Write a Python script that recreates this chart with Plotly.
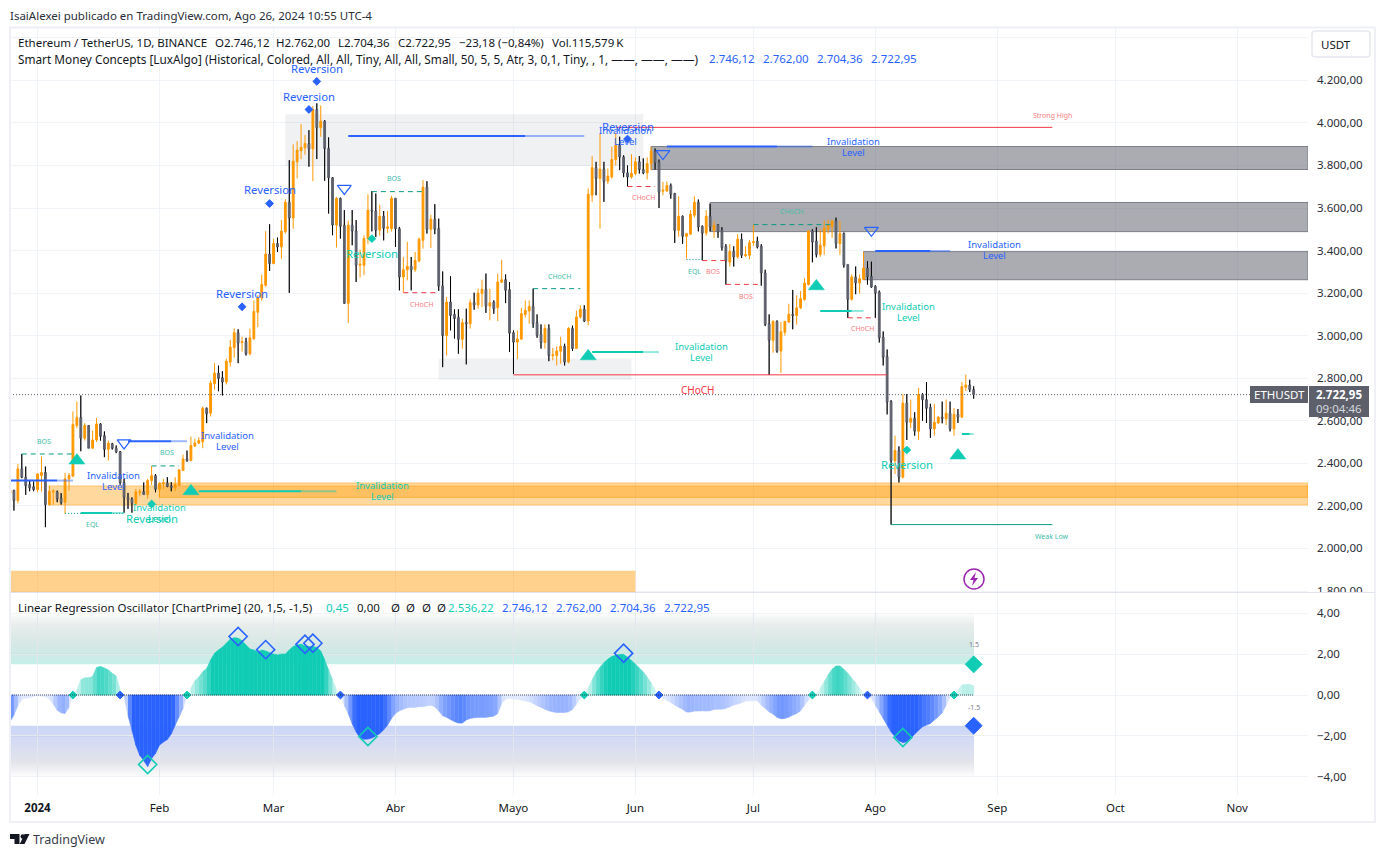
import pandas as pd
import plotly.graph_objects as go

# chart values. First candle is 2023-12-25
FIRST_DAY = "2023-12-25"
opens = [2260, 2272, 2225, 2374, 2335, 2300, 2290,
         2277, 2343, 2357, 2206, 2266, 2266, 2237, 2217, 2327, 2339, 2578, 2615, 2518, 2578, 2471, 2510, 2585, 2530, 2466, 2492, 2471, 2454, 2310, 2240, 2233,
         2212, 2262, 2267, 2253, 2319, 2342, 2278, 2304, 2308, 2294, 2286, 2296, 2366, 2421, 2413, 2481, 2495, 2502, 2659, 2636, 2774, 2824, 2802, 2782, 2876, 2944, 3014, 2968, 2972, 2915, 2985, 3110, 3177, 3237, 3383,
         3339, 3433, 3417, 3488, 3627, 3553, 3817, 3869, 3883, 3903, 3878, 4063, 3977, 4008, 3880, 3742, 3520, 3645, 3519, 3152, 3519, 3492, 3331, 3331, 3456, 3590, 3586, 3496, 3561, 3505, 3503,
         3646, 3503, 3276, 3310, 3326, 3310, 3351, 3448, 3698, 3500, 3547, 3503, 3234, 3001, 3158, 3100, 3086, 2983, 3062, 3056, 3155, 3144, 3198, 3218, 3139, 3158, 3131, 3251, 3263, 3216, 3014, 2970,
         2984, 3100, 3116, 3138, 3061, 3006, 2968, 3034, 2906, 2907, 2927, 2950, 2876, 3034, 2940, 3088, 3124, 3069, 3660, 3790, 3739, 3783, 3726, 3746, 3828, 3895, 3840, 3765, 3746,
         3762, 3817, 3781, 3765, 3809, 3867, 3817, 3679, 3680, 3706, 3668, 3495, 3561, 3467, 3477, 3566, 3627, 3514, 3483, 3561, 3495, 3522, 3496, 3420, 3346, 3396, 3370, 3453, 3376, 3378,
         3438, 3444, 3420, 3295, 3056, 2978, 3067, 2928, 3016, 3064, 3100, 3095, 3131, 3170, 3241, 3492, 3444, 3382, 3422, 3500, 3514, 3539, 3433, 3480, 3335, 3171, 3276, 3248, 3265, 3318, 3279,
         3232, 3205, 2993, 2902, 2691, 2413, 2460, 2335, 2683, 2593, 2612, 2551, 2724, 2699, 2663, 2562, 2590, 2617, 2609, 2636, 2562, 2630, 2617, 2757, 2768, 2746]
highs = [2290, 2276, 2397, 2444, 2385, 2322, 2314,
         2354, 2432, 2385, 2295, 2278, 2272, 2260, 2355, 2355, 2644, 2691, 2719, 2589, 2580, 2554, 2614, 2589, 2550, 2507, 2496, 2484, 2458, 2327, 2261, 2240,
         2280, 2280, 2310, 2327, 2388, 2350, 2311, 2327, 2335, 2311, 2335, 2374, 2441, 2460, 2526, 2515, 2523, 2667, 2662, 2790, 2871, 2859, 2833, 2892, 2981, 3034, 3030, 2995, 2990, 3033, 3166, 3190, 3287, 3491, 3524,
         3456, 3461, 3543, 3641, 3825, 3899, 3914, 3994, 3943, 3966, 4079, 4092, 4082, 4013, 3932, 3745, 3652, 3649, 3590, 3540, 3590, 3543, 3404, 3472, 3665, 3679, 3668, 3616, 3586, 3586, 3657,
         3646, 3511, 3370, 3441, 3370, 3393, 3461, 3731, 3726, 3569, 3618, 3550, 3302, 3182, 3279, 3124, 3124, 3080, 3127, 3171, 3202, 3221, 3263, 3292, 3220, 3166, 3292, 3357, 3288, 3252, 3025, 3025,
         3131, 3166, 3166, 3221, 3100, 3053, 3053, 3053, 2943, 2950, 2995, 2962, 3040, 3047, 3119, 3143, 3143, 3692, 3844, 3817, 3950, 3817, 3786, 3888, 3954, 3935, 3848, 3800,
         3853, 3838, 3844, 3833, 3838, 3888, 3880, 3828, 3723, 3725, 3715, 3671, 3655, 3565, 3482, 3590, 3655, 3640, 3518, 3590, 3620, 3540, 3525, 3510, 3430, 3430, 3420, 3478, 3480, 3420,
         3450, 3522, 3465, 3430, 3310, 3100, 3072, 3072, 3065, 3070, 3150, 3215, 3190, 3210, 3270, 3495, 3500, 3510, 3500, 3540, 3545, 3545, 3555, 3540, 3485, 3335, 3288, 3325, 3288, 3392, 3350, 3348,
         3237, 3212, 3020, 2935, 2697, 2530, 2480, 2725, 2725, 2700, 2640, 2755, 2730, 2782, 2680, 2680, 2622, 2690, 2700, 2690, 2660, 2655, 2782, 2817, 2793, 2762]
lows = [2240, 2178, 2212, 2330, 2252, 2269, 2269,
        2264, 2267, 2100, 2201, 2206, 2217, 2206, 2162, 2272, 2339, 2565, 2457, 2507, 2471, 2471, 2500, 2507, 2429, 2413, 2465, 2448, 2300, 2168, 2186, 2168,
        2206, 2244, 2253, 2234, 2298, 2264, 2240, 2280, 2288, 2269, 2269, 2296, 2366, 2408, 2413, 2476, 2491, 2471, 2589, 2620, 2746, 2739, 2719, 2771, 2855, 2896, 2871, 2925, 2907, 2907, 2981, 3040, 3165, 3230, 3304,
        3336, 3393, 3361, 3480, 3201, 3502, 3739, 3830, 3850, 3794, 3726, 3830, 3935, 3728, 3574, 3472, 3414, 3456, 3150, 3059, 3425, 3252, 3273, 3284, 3430, 3490, 3464, 3470, 3448, 3483, 3490,
        3417, 3213, 3202, 3260, 3213, 3300, 3345, 3409, 3480, 3412, 3477, 3210, 2852, 2907, 3025, 2986, 2915, 2939, 2865, 3033, 3122, 3127, 3135, 3107, 3072, 3103, 3069, 3250, 3153, 2923, 2820, 2890,
        2980, 3085, 3056, 3037, 2990, 2939, 2939, 2880, 2884, 2860, 2868, 2860, 2870, 2928, 2938, 3080, 3064, 3048, 3629, 3660, 3503, 3629, 3712, 3738, 3800, 3778, 3745, 3702,
        3738, 3754, 3762, 3759, 3734, 3778, 3781, 3600, 3660, 3675, 3644, 3436, 3465, 3432, 3362, 3475, 3555, 3490, 3354, 3470, 3490, 3460, 3460, 3400, 3240, 3325, 3325, 3362, 3365, 3370,
        3360, 3422, 3410, 3235, 3045, 2815, 2920, 2920, 2825, 3000, 3060, 3030, 3052, 3125, 3165, 3236, 3345, 3368, 3370, 3380, 3480, 3460, 3410, 3380, 3320, 3084, 3165, 3195, 3198, 3262, 3240, 3225,
        3084, 2968, 2860, 2630, 2112, 2350, 2310, 2330, 2510, 2565, 2530, 2510, 2600, 2590, 2520, 2530, 2585, 2588, 2580, 2550, 2530, 2590, 2615, 2740, 2735, 2704]
closes = [2275, 2225, 2374, 2335, 2295, 2285, 2277,
          2350, 2357, 2206, 2269, 2269, 2233, 2216, 2327, 2343, 2582, 2615, 2518, 2578, 2471, 2510, 2585, 2527, 2466, 2495, 2471, 2454, 2310, 2240, 2230, 2212,
          2266, 2267, 2253, 2319, 2342, 2278, 2306, 2308, 2291, 2286, 2300, 2369, 2421, 2413, 2484, 2496, 2507, 2659, 2633, 2777, 2824, 2799, 2782, 2880, 2946, 3014, 2965, 2972, 2915, 2990, 3114, 3177, 3240, 3383, 3339,
          3433, 3417, 3491, 3627, 3553, 3820, 3872, 3885, 3903, 3878, 4063, 3977, 4008, 3880, 3742, 3520, 3645, 3514, 3152, 3519, 3492, 3331, 3336, 3456, 3590, 3586, 3496, 3561, 3505, 3511, 3646,
          3503, 3276, 3310, 3326, 3310, 3354, 3453, 3698, 3500, 3547, 3500, 3234, 3001, 3158, 3095, 3081, 2983, 3061, 3056, 3155, 3144, 3200, 3218, 3139, 3155, 3127, 3252, 3263, 3213, 3012, 2970, 2984,
          3103, 3119, 3138, 3056, 3001, 2968, 3034, 2907, 2910, 2928, 2950, 2876, 3034, 2940, 3088, 3124, 3069, 3665, 3790, 3739, 3783, 3726, 3750, 3828, 3895, 3840, 3765, 3746,
          3762, 3817, 3781, 3765, 3809, 3867, 3812, 3676, 3684, 3706, 3665, 3495, 3561, 3467, 3480, 3571, 3627, 3511, 3482, 3561, 3511, 3519, 3488, 3414, 3351, 3396, 3370, 3453, 3378, 3381,
          3437, 3442, 3417, 3295, 3053, 2978, 3067, 2928, 3019, 3067, 3100, 3095, 3131, 3174, 3247, 3492, 3440, 3382, 3425, 3506, 3519, 3539, 3433, 3480, 3332, 3171, 3276, 3248, 3268, 3318, 3276, 3229,
          3200, 2990, 2899, 2688, 2413, 2460, 2335, 2683, 2593, 2612, 2551, 2724, 2699, 2659, 2562, 2593, 2617, 2611, 2636, 2562, 2630, 2617, 2761, 2768, 2746, 2723]
osc_values = [-1.3, -0.98, -0.5, -0.2, -0.16, -0.13, -0.07,
              -0.02, -0.05, -0.08, -0.2, -0.44, -0.74, -0.87, -0.9, -0.6, 0.05, 0.25, 0.75, 0.84, 0.85, 0.9, 1.35, 1.4, 1.32, 1.22, 1.06, 0.93, 0.25, -0.05, -1.0, -1.7,
              -2.45, -2.95, -3.2, -3.5, -3.1, -2.85, -2.45, -2.3, -2.17, -1.9, -1.47, -1.06, -0.65, -0.1, 0.33, 0.7, 0.87, 1.14, 1.3, 1.7, 2.04, 2.2, 2.34, 2.53, 2.73, 2.8, 2.78, 2.65, 2.45, 2.25, 2.2, 2.09, 2.2, 2.15, 2.07,
              2.0, 1.96, 2.0, 2.0, 2.2, 2.37, 2.45, 2.48, 2.4, 2.37, 2.37, 2.32, 2.15, 1.72, 1.22, 0.74, 0.25, 0.0, -0.5, -0.9, -1.4, -1.8, -2.1, -2.16, -2.15, -2.1, -2.0, -1.88, -1.7, -1.47, -1.14,
              -0.9, -0.77, -0.69, -0.62, -0.6, -0.6, -0.57, -0.57, -0.52, -0.5, -0.57, -0.77, -1.01, -1.09, -1.2, -1.3, -1.37, -1.37, -1.22, -1.14, -1.11, -1.09, -1.09, -1.09, -1.06, -1.03, -0.9, -0.4, -0.2, -0.16, -0.2, -0.2,
              -0.25, -0.28, -0.33, -0.41, -0.52, -0.6, -0.69, -0.77, -0.82, -0.85, -0.85, -0.85, -0.82, -0.7, -0.44, -0.16, 0.0, 0.33, 0.74, 1.1, 1.36, 1.58, 1.75, 1.88, 1.94, 1.98, 1.98, 1.85,
              1.68, 1.52, 1.32, 1.13, 0.87, 0.6, 0.25, 0.0, -0.16, -0.26, -0.36, -0.49, -0.6, -0.7, -0.83, -0.83, -0.78, -0.78, -0.77, -0.78, -0.77, -0.7, -0.69, -0.69, -0.65, -0.57, -0.49, -0.44, -0.38, -0.29,
              -0.28, -0.28, -0.28, -0.49, -0.65, -0.82, -0.93, -1.09, -1.16, -1.14, -1.08, -0.98, -0.9, -0.77, -0.49, -0.25, 0.0, 0.02, 0.33, 0.65, 0.98, 1.26, 1.42, 1.42, 1.26, 1.06, 0.82, 0.6, 0.33, 0.1, 0.0,
              -0.16, -0.49, -0.82, -1.14, -1.47, -1.8, -2.04, -2.24, -2.32, -2.29, -2.12, -1.91, -1.72, -1.55, -1.47, -1.39, -1.22, -1.06, -0.87, -0.49, -0.11, 0.0, 0.25, 0.49, 0.52, 0.52, 0.45]

month_ticks = ["2024-01-01", "2024-02-01", "2024-03-01", "2024-04-01", "2024-05-01", "2024-06-01",
               "2024-07-01", "2024-08-01", "2024-09-01", "2024-10-01", "2024-11-01"]
month_labels = ["<b>2024</b>", "Feb", "Mar", "Abr", "Mayo", "Jun", "Jul", "Ago", "Sep", "Oct", "Nov"]
last_close = 2722.95

TEAL = "#10ccb4"
BLUE = "#2962ff"
ORANGE = "#ff9800"
GRAY = "#5d606b"
RED = "#f23645"
GREEN = "#089981"
INK = "#131722"
GRID = "#f0f3f8"
FONT = "Noto Sans"

# page geometry, the browser puts the figure 8px in from the corner
OFF = 8
L, R, T, B, SEP = 10, 1308, 28, 795, 592.5


def px(x):
    return (x - L) / (R - L)


def py(y):
    return (B - y) / (B - T)


def d(i):
    # day offset from 1 Jan 2024, fractions allowed for labels
    return str(pd.Timestamp("2024-01-01") + pd.Timedelta(days=i))


dates = [str(t.date()) for t in pd.date_range(FIRST_DAY, periods=len(opens))]
RIGHT_DAY = d(323)
LEFT_DAY = d(-7)

fig = go.Figure()

# candles; the down wicks are black in the original so they go on top as own trace
fig.add_trace(go.Candlestick(
    x=dates, open=opens, high=highs, low=lows, close=closes, xaxis="x", yaxis="y",
    increasing=dict(line=dict(color=ORANGE, width=1), fillcolor=ORANGE),
    decreasing=dict(line=dict(color=GRAY, width=1), fillcolor=GRAY),
    hoverinfo="skip", showlegend=False))
wx, wy = [], []
for t, o, h, l, c in zip(dates, opens, highs, lows, closes):
    if c < o:
        wx += [t, t, None, t, t, None]
        wy += [h, o, None, c, l, None]
fig.add_trace(go.Scatter(x=wx, y=wy, mode="lines", line=dict(color="black", width=1),
                         hoverinfo="skip", showlegend=False))

# oscillator area, one slice per day and the strength sets how far it is from white
for i in range(len(osc_values) - 1):
    a, b = osc_values[i], osc_values[i + 1]
    mid = (a + b) / 2
    alpha = max(0.14, min(1, abs(mid) / 1.75))
    base = (16, 204, 180) if mid >= 0 else (41, 98, 255)
    color = "rgb(%d,%d,%d)" % tuple(255 + (c - 255) * alpha for c in base)
    fig.add_trace(go.Scatter(x=[dates[i], dates[i + 1], dates[i + 1], dates[i]], y=[a, b, 0, 0],
                             mode="lines", fill="toself", fillcolor=color, line=dict(color=color, width=0.7),
                             xaxis="x", yaxis="y2", hoverinfo="skip", showlegend=False))

shapes = []


def rect(x0, x1, y0, y1, fill, line=None, yref="y", width=1, layer="between"):
    shapes.append(dict(type="rect", xref="x", yref=yref, x0=x0, x1=x1, y0=y0, y1=y1, fillcolor=fill,
                       line=dict(color=line or "rgba(0,0,0,0)", width=width if line else 0), layer=layer))


def hline(x0, x1, y, color, width=1, dash="solid", yref="y", layer="above"):
    shapes.append(dict(type="line", xref="x", yref=yref, x0=x0, x1=x1, y0=y, y1=y,
                       line=dict(color=color, width=width, dash=dash), layer=layer))


# gradient bands of the oscillator, each step painted over the one before so no seams show
def blend(stops, f):
    for (f0, c0), (f1, c1) in zip(stops, stops[1:]):
        if f <= f1:
            k = (f - f0) / (f1 - f0)
            return "rgb(%d,%d,%d)" % tuple(c0[j] + (c1[j] - c0[j]) * k for j in range(3))
    return "rgb(255,255,255)"


top_stops = [(0, (198, 239, 233)), (0.38, (214, 232, 229)), (0.78, (233, 238, 237)), (1, (255, 255, 255))]
bot_stops = [(0, (203, 214, 248)), (0.33, (214, 220, 243)), (0.7, (227, 228, 234)), (1, (255, 255, 255))]
steps = 40
for k in range(steps):
    f0 = k / steps
    rect(LEFT_DAY, d(238), 1.5 + 2.5 * f0, 4, blend(top_stops, f0), yref="y2", layer="below")
    rect(LEFT_DAY, d(238), -1.5 - 2.5 * f0, -4, blend(bot_stops, f0), yref="y2", layer="below")
# grid shows as a darker line through those bands
for y in [2, -2]:
    hline(LEFT_DAY, d(238), y, "rgba(60,70,90,0.09)", yref="y2", layer="between")
for t in month_ticks[:8]:
    for y0, y1 in [(1.5, 4), (-1.5, -4)]:
        shapes.append(dict(type="line", xref="x", yref="y2", x0=t, x1=t, y0=y0, y1=y1,
                           line=dict(color="rgba(60,70,90,0.07)", width=1), layer="between"))

# order blocks
rect(d(63), d(154), 3798, 4041, "rgba(93,96,107,0.09)")
rect(d(102), d(151), 2793, 2893, "rgba(93,96,107,0.09)")
ZONE = "rgba(93,96,107,0.52)"
ZONE_EDGE = "#7c7e88"
rect(d(156), RIGHT_DAY, 3781, 3889, ZONE, ZONE_EDGE)
rect(d(171), RIGHT_DAY, 3489, 3626, ZONE, ZONE_EDGE)
rect(d(210), RIGHT_DAY, 3263, 3395, ZONE, ZONE_EDGE)
rect(d(3), RIGHT_DAY, 2204, 2294, "rgba(255,152,0,0.38)", "rgba(255,152,0,0.45)")
rect(d(31), RIGHT_DAY, 2240, 2308, "rgba(255,152,0,0.38)", "rgba(255,152,0,0.45)")
rect(LEFT_DAY, d(152), 1793, 1895, "rgba(255,152,0,0.45)")

# structure lines
hline(d(147), d(258), 3979, RED)
hline(d(217), d(258), 2112, GREEN)
hline(d(121), d(216), 2816, RED)
for a, b, y, c in [(-4, 9, 2444, GREEN), (29, 36, 2388, GREEN), (85, 98, 3677, GREEN),
                   (93, 102, 3202, RED), (126, 138, 3221, GREEN), (150, 157, 3701, RED),
                   (169, 175, 3353, RED), (175, 184, 3241, RED), (182, 202, 3522, GREEN),
                   (206, 213, 3084, RED)]:
    hline(d(a), d(b), y, c, dash="5px,4px")
hline(d(7), d(22), 2165, GREEN, dash="1px,2px")
hline(d(165), d(169), 3358, GREEN, dash="1px,2px")

# invalidation levels fade out to the right
for a, b, y, c in [(-7, 9, 2319, "41,98,255"), (23, 38, 2504, "41,98,255"), (79, 139, 3938, "41,98,255"),
                   (160, 197, 3889, "41,98,255"), (213, 232, 3398, "41,98,255"),
                   (11, 22, 2167, "16,204,180"), (41, 76, 2269, "16,204,180"),
                   (141, 158, 2923, "16,204,180"), (199, 210, 3116, "16,204,180"), (235, 238, 2538, "16,204,180")]:
    mid = round(a + (b - a) * 0.75)
    hline(d(a), d(mid), y, f"rgb({c})", width=2)
    hline(d(mid), d(b), y, f"rgba({c},0.45)", width=2)

hline(LEFT_DAY, RIGHT_DAY, last_close, GRAY, dash="1px,2px")
hline(LEFT_DAY, d(238), 0, "rgba(40,40,50,0.75)", dash="1px,1px", yref="y2")

# markers
marks = [
    ("triangle-up", 14, TEAL, 0.5, [10, 39, 140, 198, 234], [2413, 2269, 2903, 3232, 2437], "y"),
    ("triangle-down-open", 12, BLUE, 1.2, [78, 22, 159, 212], [3692, 2496, 3856, 3495], "y"),
    ("diamond", 6, BLUE, 1, [71, 69, 59, 52, 150], [4195, 4063, 3621, 3136, 3924], "y"),
    ("diamond", 6, TEAL, 1, [85, 29, 221], [3456, 2209, 2463], "y"),
    ("diamond", 6, TEAL, 1, [9, 38, 139, 197, 233], [0, 0, 0, 0, 0], "y2"),
    ("diamond", 6, BLUE, 1, [21, 77, 158, 211], [0, 0, 0, 0], "y2"),
    ("diamond-open", 14, BLUE, 1.6, [51, 58, 68, 70, 149], [2.86, 2.22, 2.48, 2.53, 2.04], "y2"),
    ("diamond-open", 14, TEAL, 1.6, [28, 84, 220], [-3.4, -2.03, -2.08], "y2"),
    ("diamond", 13, TEAL, 1, [238], [1.5], "y2"),
    ("diamond", 13, BLUE, 1, [238], [-1.5], "y2"),
]
for symbol, size, color, lw, days, vals, yaxis in marks:
    fig.add_trace(go.Scatter(x=[d(i) for i in days], y=vals, mode="markers", yaxis=yaxis,
                             marker=dict(symbol=symbol, size=size, color=color, line=dict(color=color, width=lw)),
                             hoverinfo="skip", showlegend=False))

annotations = []


def data_text(text, i, y, color, size, yref="y", yshift=0):
    annotations.append(dict(text=text, x=d(i), y=y, xref="x", yref=yref, showarrow=False, yshift=yshift,
                            xanchor="center", yanchor="middle", font=dict(color=color, size=size, family=FONT)))


def page_text(text, x, y, color=INK, size=11.5, anchor="left"):
    # annotations keep a small pad round the text
    shift = 2 if anchor == "left" else 0
    annotations.append(dict(text=text, x=px(x - shift), y=py(y), xref="paper", yref="paper", showarrow=False,
                            xanchor=anchor, yanchor="middle", align=anchor, font=dict(color=color, size=size, family=FONT)))


SOFT_RED = "#f77c80"
SOFT_GREEN = "#42bda8"
for text, i, y, c in [("BOS", 1.6, 2502, SOFT_GREEN), ("BOS", 33, 2451, SOFT_GREEN), ("BOS", 90.6, 3740, SOFT_GREEN),
                      ("CHoCH", 97.7, 3147, SOFT_RED), ("CHoCH", 132.8, 3279, SOFT_GREEN), ("CHoCH", 154, 3650, SOFT_RED),
                      ("EQL", 167, 3302, SOFT_GREEN), ("BOS", 171.7, 3302, SOFT_RED), ("BOS", 180, 3185, SOFT_RED),
                      ("CHoCH", 191.8, 3585, SOFT_GREEN), ("CHoCH", 209.8, 3034, SOFT_RED), ("EQL", 13.9, 2112, SOFT_GREEN),
                      ("Strong High", 258, 4037, SOFT_RED), ("Weak Low", 258, 2056, SOFT_GREEN)]:
    data_text(text, i, y, c, 7)
data_text("CHoCH", 168, 2747, RED, 10)

for i, y, c in [(149.6, 3938, BLUE), (19.4, 2319, BLUE), (48.4, 2503, BLUE), (207.5, 3887, BLUE), (243.4, 3401, BLUE),
                (87.6, 2268, TEAL), (31.1, 2165, TEAL), (168.7, 2922, TEAL), (221.5, 3110, TEAL)]:
    data_text("Invalidation", i, y, c, 9.5, yshift=5.5)
    data_text("Level", i, y, c, 9.5, yshift=-5.5)

for i, y, c in [(71, 4258, BLUE), (69, 4126, BLUE), (59, 3685, BLUE), (52, 3200, BLUE), (150, 3985, BLUE),
                (85, 3388, TEAL), (29, 2141, TEAL), (221, 2395, TEAL)]:
    data_text("Reversion", i, y, c, 11.3)

data_text("1.5", 238, 2.45, "#787b86", 7, yref="y2")
data_text("-1.5", 238, -0.62, "#787b86", 7, yref="y2")

# header and legends
page_text("IsaiAlexei publicado en TradingView.com, Ago 26, 2024 10:55 UTC-4", 10, 15, "#2a2e39")
page_text("Ethereum / TetherUS, 1D, BINANCE", 18, 42)
page_text("O2.746,12", 215, 42)
page_text("H2.762,00", 276, 42)
page_text("L2.704,36", 338, 42)
page_text("C2.722,95", 398, 42)
page_text("\u221223,18 (\u22120,84%)", 459, 42)
page_text("Vol.115,579\u202fK", 552, 42)
page_text("Smart Money Concepts [LuxAlgo] (Historical, Colored, All, All, Tiny, All, All, Small, 50, 5, 5, Atr, 3, 0,1, Tiny, , 1, \u2014\u2014, \u2014\u2014, \u2014\u2014)", 18, 59, INK, 11.8)
for text, x in [("2.746,12", 709), ("2.762,00", 763), ("2.704,36", 817), ("2.722,95", 871)]:
    page_text(text, x, 59, BLUE)
page_text("Linear Regression Oscillator [ChartPrime] (20, 1,5, -1,5)", 18, 607)
page_text("0,45", 326, 607, TEAL)
page_text("0,00", 357, 607)
for x in [391, 406, 422, 437]:
    page_text("\u00d8", x, 607)
page_text("2.536,22", 448, 607, TEAL)
for text, x in [("2.746,12", 502), ("2.762,00", 556), ("2.704,36", 610), ("2.722,95", 664)]:
    page_text(text, x, 607, BLUE)

# price tags and the small furniture around the plot


def page_rect(x0, y0, x1, y1, fill, line=None, width=1):
    shapes.append(dict(type="rect", xref="paper", yref="paper", x0=px(x0), x1=px(x1), y0=py(y0), y1=py(y1),
                       fillcolor=fill, line=dict(color=line or "rgba(0,0,0,0)", width=width if line else 0), layer="above"))


def page_path(points, fill, line=None, width=1):
    path = "M" + " L".join(f"{px(x):.5f},{py(y):.5f}" for x, y in points) + " Z"
    shapes.append(dict(type="path", xref="paper", yref="paper", path=path, fillcolor=fill,
                       line=dict(color=line or "rgba(0,0,0,0)", width=width if line else 0), layer="above"))


# the lowest price label is cut by the pane edge
page_rect(1310, 592.5, 1373, 600, "white")
page_rect(10, 27.5, 1375, 822, "rgba(0,0,0,0)", "#eef0f6", 2)
shapes.append(dict(type="line", xref="paper", yref="paper", x0=px(10), x1=px(1375), y0=py(SEP), y1=py(SEP),
                   line=dict(color="#e0e3eb", width=1), layer="above"))
page_rect(1250, 386, 1308, 403, GRAY)
page_rect(1309, 386, 1369, 417, GRAY)
page_text("ETHUSDT", 1279, 394.5, "white", 11.5, "center")
page_text("<b>2.722,95</b>", 1339, 394, "white", 11.5, "center")
page_text("09:04:46", 1339, 408, "#d6d8de", 11.5, "center")
shapes.append(dict(type="path", xref="paper", yref="paper", layer="above", fillcolor="white",
                   line=dict(color="#e6e8ee", width=1.5),
                   path="M%f,%f L%f,%f Q%f,%f %f,%f L%f,%f Q%f,%f %f,%f L%f,%f Q%f,%f %f,%f L%f,%f Q%f,%f %f,%f Z" % (
                       px(1315), py(31), px(1367), py(31), px(1370), py(31), px(1370), py(34), px(1370), py(54),
                       px(1370), py(57), px(1367), py(57), px(1315), py(57), px(1312), py(57), px(1312), py(54),
                       px(1312), py(34), px(1312), py(31), px(1315), py(31))))
page_text("USDT", 1321, 44.5, INK, 11.5)

# lightning badge
cx, cy = 974, 579
shapes.append(dict(type="circle", xref="paper", yref="paper", x0=px(cx - 10), x1=px(cx + 10), y0=py(cy + 10), y1=py(cy - 10),
                   fillcolor="white", line=dict(color="#9c27b0", width=1.5), layer="above"))
page_path([(cx + 2, cy - 7), (cx - 4, cy + 1), (cx - 0.5, cy + 1), (cx - 2, cy + 7), (cx + 4, cy - 1), (cx + 0.5, cy - 1)], "#9c27b0")

# TradingView mark
page_path([(10, 834), (19.5, 834), (19.5, 844), (14.5, 844), (14.5, 839), (10, 839)], INK)
shapes.append(dict(type="circle", xref="paper", yref="paper", x0=px(20.5), x1=px(25), y0=py(838.8), y1=py(834.2),
                   fillcolor=INK, line=dict(width=0), layer="above"))
page_path([(29.5, 834), (24.5, 844), (19.8, 844), (24.6, 834)], INK)
page_text("TradingView", 33, 840, "#3a3e49", 12.5)

fig.update_layout(
    width=1368, height=841, autosize=False,
    margin=dict(l=L - OFF, r=1368 + OFF - R, t=T - OFF, b=841 + OFF - B, pad=0),
    paper_bgcolor="white", plot_bgcolor="white",
    separators=",.",
    boxgap=0.35,
    showlegend=False,
    font=dict(family=FONT, size=11.5, color=INK),
    shapes=shapes,
    annotations=annotations,
    xaxis=dict(type="date", anchor="y2", domain=[0, 1], range=[LEFT_DAY, RIGHT_DAY], rangeslider=dict(visible=False),
               tickmode="array", tickvals=month_ticks, ticktext=month_labels, ticks="", showgrid=True, gridcolor=GRID,
               gridwidth=1, zeroline=False, showline=False, tickfont=dict(size=11.5, color=INK), ticklabelstandoff=4),
    yaxis=dict(domain=[py(SEP), 1], anchor="x", side="right", range=[1793, 4446], dtick=200, tick0=0, tickformat=",.2f",
               showgrid=True, gridcolor=GRID, zeroline=False, showline=False, ticks="", ticklabelstandoff=8,
               tickfont=dict(size=11.5, color="#2a2e39")),
    yaxis2=dict(domain=[0, py(SEP + 0.5)], anchor="x", side="right", range=[-4.89, 4.99], tickvals=[-4, -2, 0, 2, 4],
                tickformat=",.2f", showgrid=True, gridcolor=GRID, zeroline=False, showline=False, ticks="", ticklabelstandoff=8,
                tickfont=dict(size=11.5, color="#2a2e39")),
)

fig.write_html("out.html")
